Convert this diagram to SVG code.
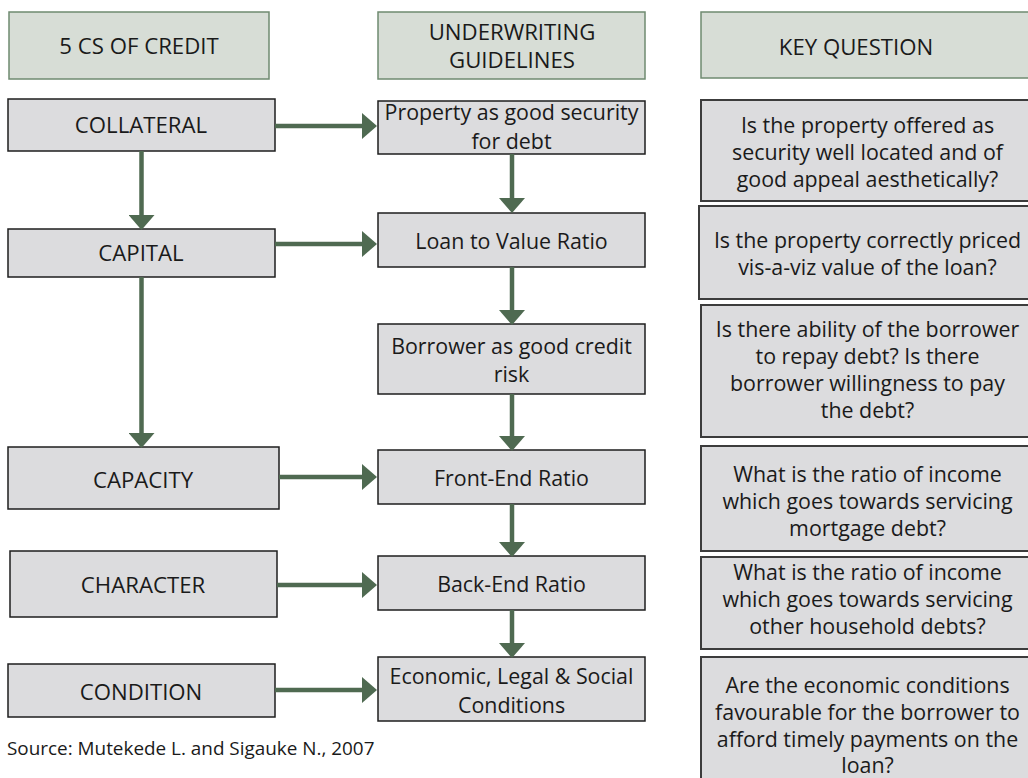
<svg xmlns="http://www.w3.org/2000/svg" width="1028" height="778" viewBox="0 0 1028 778">
<defs>
<style>
text{font-family:"Open Sans","Noto Sans","Liberation Sans",sans-serif;fill:#1a1a1a;text-anchor:middle;font-size:21.4px}
.cap{font-size:22.2px}
.hdr{fill:#d7ddd6;stroke:#6f8a70;stroke-width:1.5}
.box{fill:#dcdcde;stroke:#1e1e1e;stroke-width:1.5}
.qbox{fill:#dcdcde;stroke:#3c3c3c;stroke-width:2}
.conn{stroke:#4f6a51;stroke-width:4.5;fill:none}
.src{text-anchor:start;font-size:18.9px}
</style>
<marker id="ah" viewBox="0 0 15 26" refX="0" refY="13" markerWidth="15" markerHeight="26" markerUnits="userSpaceOnUse" orient="auto">
<path d="M0,0 L15,13 L0,26 Z" fill="#4f6a51"/>
</marker>
</defs>
<rect width="1028" height="778" fill="#ffffff"/>

<g id="h-5cs"><rect class="hdr" x="9" y="12" width="260" height="67"/><text class="cap" x="139" y="54">5 CS OF CREDIT</text></g>
<g id="h-uw"><rect class="hdr" x="378" y="12" width="267" height="67"/><text class="cap" x="512" y="40">UNDERWRITING</text><text class="cap" x="512" y="68">GUIDELINES</text></g>
<g id="h-kq"><rect class="hdr" x="701" y="12" width="340" height="66"/><text class="cap" x="856" y="55">KEY QUESTION</text></g>

<g id="collateral"><rect class="box" x="8" y="99" width="267" height="52"/><text class="cap" x="141" y="133">COLLATERAL</text></g>
<g id="capital"><rect class="box" x="8" y="229" width="267" height="48"/><text class="cap" x="141" y="261">CAPITAL</text></g>
<g id="capacity"><rect class="box" x="8" y="447" width="271" height="62"/><text class="cap" x="143" y="488">CAPACITY</text></g>
<g id="character"><rect class="box" x="10" y="551" width="267" height="66"/><text class="cap" x="143" y="593">CHARACTER</text></g>
<g id="condition"><rect class="box" x="8" y="664" width="267" height="53"/><text class="cap" x="141" y="700">CONDITION</text></g>

<g id="property"><rect class="box" x="378" y="101" width="267" height="53"/><text x="511.5" y="120">Property as good security</text><text x="511.5" y="149">for debt</text></g>
<g id="ltv"><rect class="box" x="378" y="213" width="267" height="54"/><text x="511.5" y="249">Loan to Value Ratio</text></g>
<g id="borrower"><rect class="box" x="378" y="324" width="267" height="70"/><text x="511.5" y="354">Borrower as good credit</text><text x="511.5" y="382">risk</text></g>
<g id="frontend"><rect class="box" x="378" y="450" width="267" height="54"/><text x="511.5" y="486">Front-End Ratio</text></g>
<g id="backend"><rect class="box" x="378" y="556" width="267" height="54"/><text x="511.5" y="592">Back-End Ratio</text></g>
<g id="economic"><rect class="box" x="378" y="657" width="267" height="64"/><text x="511.5" y="684">Economic, Legal &amp; Social</text><text x="511.5" y="712.5">Conditions</text></g>

<g id="q1"><rect class="qbox" x="701" y="100" width="340" height="101"/><text x="867.5" y="133.3">Is the property offered as</text><text x="867.5" y="160">security well located and of</text><text x="867.5" y="186.7">good appeal aesthetically?</text></g>
<g id="q2"><rect class="qbox" x="699" y="206" width="342" height="93"/><text x="867.5" y="248.3">Is the property correctly priced</text><text x="867.5" y="275">vis-a-viz value of the loan?</text></g>
<g id="q3"><rect class="qbox" x="701" y="305" width="340" height="132"/><text x="867.5" y="336.7">Is there ability of the borrower</text><text x="867.5" y="364">to repay debt? Is there</text><text x="867.5" y="391">borrower willingness to pay</text><text x="867.5" y="418">the debt?</text></g>
<g id="q4"><rect class="qbox" x="701" y="446" width="340" height="105"/><text x="867.5" y="481.7">What is the ratio of income</text><text x="867.5" y="509">which goes towards servicing</text><text x="867.5" y="536">mortgage debt?</text></g>
<g id="q5"><rect class="qbox" x="701" y="557" width="340" height="92"/><text x="867.5" y="579.5">What is the ratio of income</text><text x="867.5" y="606.7">which goes towards servicing</text><text x="867.5" y="634">other household debts?</text></g>
<g id="q6"><rect class="qbox" x="701" y="657" width="340" height="140"/><text x="867.5" y="693.3">Are the economic conditions</text><text x="867.5" y="720">favourable for the borrower to</text><text x="867.5" y="746.7">afford timely payments on the</text><text x="867.5" y="773.3">loan?</text></g>

<g id="source"><text class="src" x="7" y="755">Source: Mutekede L. and Sigauke N., 2007</text></g>

<g id="connectors">
<line class="conn" x1="275" y1="126" x2="362" y2="126" marker-end="url(#ah)"/>
<line class="conn" x1="275" y1="244" x2="362" y2="244" marker-end="url(#ah)"/>
<line class="conn" x1="279" y1="477" x2="362" y2="477" marker-end="url(#ah)"/>
<line class="conn" x1="277" y1="585" x2="362" y2="585" marker-end="url(#ah)"/>
<line class="conn" x1="275" y1="690" x2="362" y2="690" marker-end="url(#ah)"/>
<line class="conn" x1="141.5" y1="151" x2="141.5" y2="215" marker-end="url(#ah)"/>
<line class="conn" x1="141.5" y1="277" x2="141.5" y2="433" marker-end="url(#ah)"/>
<line class="conn" x1="512" y1="154" x2="512" y2="198" marker-end="url(#ah)"/>
<line class="conn" x1="512" y1="267" x2="512" y2="310" marker-end="url(#ah)"/>
<line class="conn" x1="512" y1="394" x2="512" y2="436" marker-end="url(#ah)"/>
<line class="conn" x1="512" y1="504" x2="512" y2="542" marker-end="url(#ah)"/>
<line class="conn" x1="512" y1="610" x2="512" y2="643" marker-end="url(#ah)"/>
</g>
</svg>
